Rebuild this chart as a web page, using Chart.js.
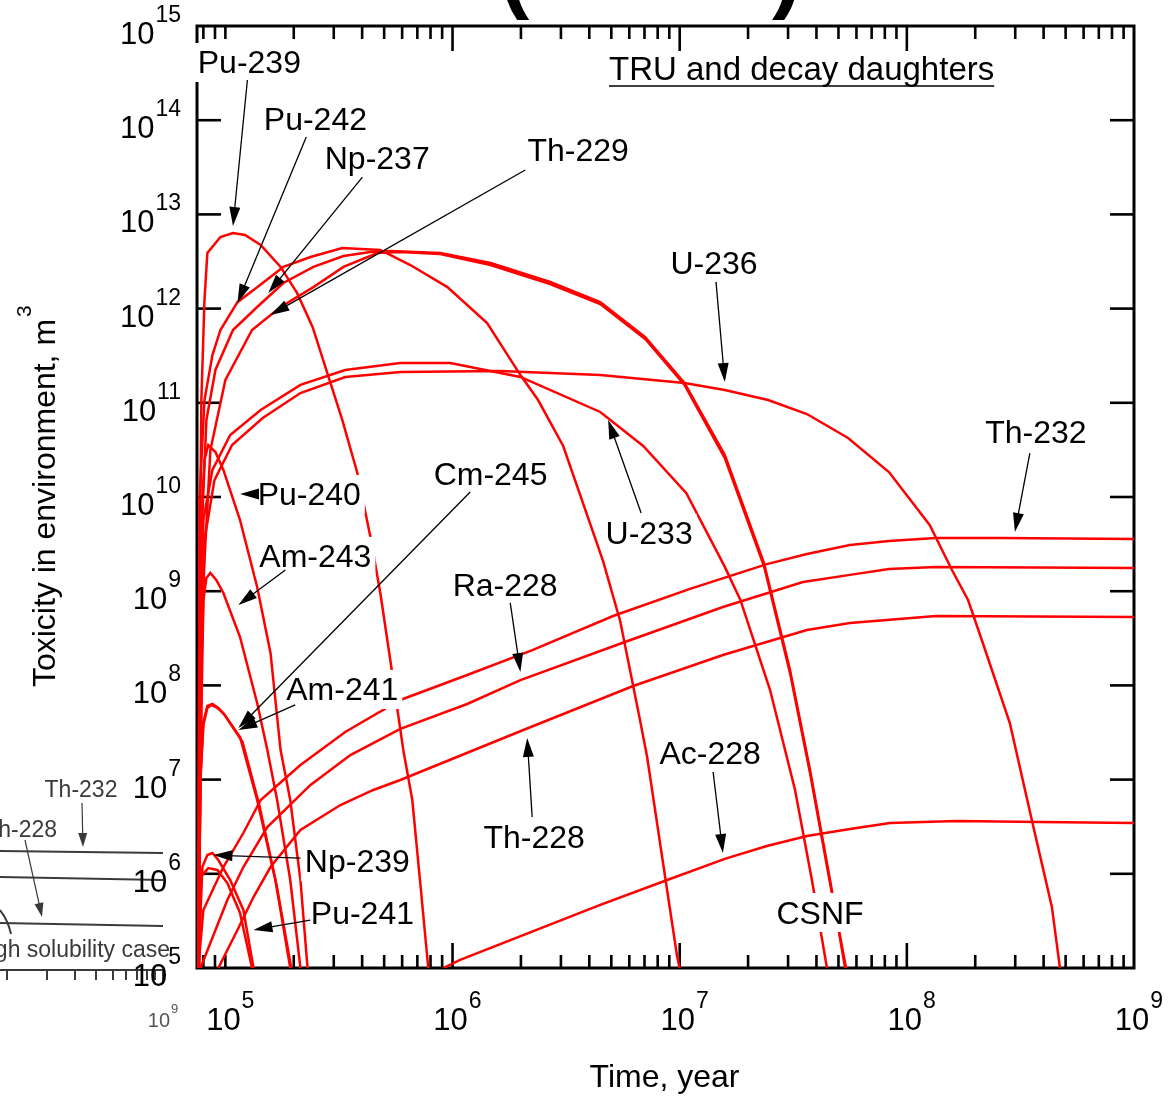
<!DOCTYPE html>
<html>
<head>
<meta charset="utf-8">
<script src="https://cdn.jsdelivr.net/npm/chart.js@4.4.1/dist/chart.umd.min.js"></script>
<style>
  html, body { margin: 0; padding: 0; background: #fff; }
  canvas { display: block; }
</style>
</head>
<body>
<canvas id="toxChart" width="1174" height="1096"></canvas>
<script>
// axis ranges and tick labels
const xMin = 75000, xMax = 1e9;
const yMin = 1e5, yMax = 1e15;
const xTickExps = [5, 6, 7, 8, 9];
const yTickExps = [5, 6, 7, 8, 9, 10, 11, 12, 13, 14, 15];

// [time (year), toxicity (m3)]
const pu239 = [[7.6e4,1e5],[7.69e4,8.1e8],[7.84e4,1.07e11],[8.09e4,1.23e12],[8.33e4,3.9e12],[9.51e4,5.75e12],[1.08e5,6.35e12],[1.22e5,6.04e12],[1.43e5,4.73e12],[1.75e5,2.77e12],[2.07e5,1.46e12],[2.42e5,6.38e11],[3.27e5,6.57e10],[3.81e5,1.8e10],[4.35e5,3.76e9],[4.81e5,9.57e8],[5.32e5,1.86e8],[6.07e5,2.06e7],[6.65e5,6.07e6],[7.21e5,7.98e5],[7.82e5,1e5]];
const pu242 = [[7.6e4,1e5],[7.69e4,9.29e9],[8.09e4,1.07e11],[8.77e4,3.21e11],[9.51e4,5.93e11],[1.13e5,1.17e12],[1.38e5,1.69e12],[1.8e5,2.77e12],[2.37e5,3.53e12],[3.27e5,4.4e12],[4.81e5,4.19e12],[6.52e5,2.9e12],[9.49e5,1.69e12],[1.42e6,7.03e11],[1.99e6,1.97e11],[2.38e6,1.07e11],[3.07e6,3.48e10],[4.6e6,2.09e9],[5.47e6,4.83e8],[6.7e6,4.19e7],[7.19e6,1.74e7],[8.46e6,1.27e6],[9.75e6,1.31e5],[1e7,1e5]];
const np237 = [[7.6e4,1e5],[7.77e4,2.14e9],[8.25e4,6.57e10],[9.04e4,2.23e11],[1.08e5,5.93e11],[1.38e5,1.04e12],[1.8e5,1.87e12],[2.44e5,2.77e12],[3.31e5,3.62e12],[4.35e5,3.99e12],[5.32e5,4.09e12],[8.83e5,3.89e12],[1.47e6,3.05e12],[2.69e6,1.92e12],[4.47e6,1.17e12],[7.05e6,4.99e11],[1.05e7,1.62e11],[1.58e7,2.79e10],[2.35e7,1.99e9],[3.06e7,1.46e8],[3.75e7,1.26e7],[4.59e7,8.59e5],[5.35e7,1e5]];
const th229 = [[7.6e4,1e5],[7.92e4,8.07e8],[8.59e4,3.15e10],[1e5,1.75e11],[1.31e5,5.93e11],[1.75e5,1.04e12],[2.44e5,1.69e12],[3.31e5,2.77e12],[4.67e5,3.89e12],[5.89e5,3.99e12],[8.83e5,3.8e12],[1.47e6,2.9e12],[2.69e6,1.82e12],[4.47e6,1.12e12],[7.05e6,4.75e11],[1.05e7,1.55e11],[1.58e7,2.59e10],[2.35e7,1.85e9],[3.06e7,1.35e8],[3.75e7,1.17e7],[4.59e7,7.98e5],[5.4e7,1e5]];
const u233 = [[7.6e4,1e5],[7.77e4,7e7],[8e4,5.7e9],[8.77e4,1.94e10],[1.05e5,4.55e10],[1.43e5,8.39e10],[2.14e5,1.55e11],[3.37e5,2.23e11],[5.89e5,2.64e11],[9.77e5,2.64e11],[1.99e6,1.88e11],[4.47e6,7.99e10],[6.91e6,3.48e10],[1.07e7,1.1e10],[1.58e7,1.81e9],[1.85e7,8.07e8],[2.5e7,8.94e7],[3.22e7,7.76e6],[3.82e7,8.59e5],[4.45e7,1e5]];
const u236 = [[7.6e4,1e5],[7.77e4,1.61e7],[8.09e4,3.5e9],[8.95e4,1.51e10],[1.07e5,3.56e10],[1.46e5,6.9e10],[2.14e5,1.27e11],[3.37e5,1.88e11],[5.89e5,2.12e11],[1.62e6,2.18e11],[4.47e6,1.97e11],[1.05e7,1.62e11],[1.58e7,1.37e11],[2.45e7,1.07e11],[3.63e7,7.6e10],[5.51e7,4.23e10],[8.34e7,1.84e10],[1.26e8,5.05e9],[1.58e8,1.68e9],[1.86e8,8.07e8],[2.16e8,2.82e8],[2.84e8,3.99e7],[3.55e8,3.72e6],[4.35e8,4.45e5],[4.72e8,1e5]];
const th232 = [[7.6e4,1e5],[8e4,4.13e5],[9.8e4,1.18e6],[1.2e5,2.71e6],[1.43e5,6.07e6],[2.14e5,1.43e7],[3.37e5,3.2e7],[5.89e5,7e7],[1.16e6,1.29e8],[2.26e6,2.38e8],[5.09e6,5.45e8],[1.11e7,1.06e9],[2.42e7,1.94e9],[3.63e7,2.48e9],[5.62e7,3.09e9],[8.34e7,3.41e9],[1.34e8,3.67e9],[2.57e8,3.67e9],[1e9,3.58e9]];
const ra228 = [[7.77e4,1e5],[1.02e5,5.27e5],[1.2e5,1.18e6],[1.53e5,3.14e6],[2.37e5,8.77e6],[3.55e5,1.82e7],[5.89e5,3.45e7],[1.16e6,6.35e7],[1.99e6,1.14e8],[5.58e6,2.82e8],[1.55e7,6.8e8],[3.49e7,1.25e9],[5.62e7,1.49e9],[8.34e7,1.72e9],[1.34e8,1.81e9],[1e9,1.76e9]];
const th228 = [[9.31e4,1e5],[1.13e5,2.53e5],[1.33e5,5.67e5],[1.58e5,1.18e6],[2.14e5,2.92e6],[3.21e5,5.37e6],[4.48e5,7.76e6],[5.89e5,9.9e6],[2.05e6,3.36e7],[6.24e6,9.86e7],[1.55e7,2.1e8],[3.63e7,3.87e8],[5.62e7,4.6e8],[1.34e8,5.45e8],[1e9,5.32e8]];
const ac228 = [[9.11e5,1e5],[1.08e6,1.22e5],[4.47e6,4.67e5],[8.81e6,8.59e5],[1.58e7,1.44e6],[2.42e7,1.97e6],[3.63e7,2.52e6],[5.62e7,2.99e6],[8.43e7,3.46e6],[1.66e8,3.64e6],[3.85e8,3.55e6],[1e9,3.46e6]];
const pu240 = [[7.6e4,1e5],[7.69e4,7e7],[7.84e4,5.7e9],[8.09e4,2.47e10],[8.41e4,3.56e10],[9.04e4,3e10],[9.8e4,1.94e10],[1.16e5,5.7e9],[1.38e5,1.11e9],[1.58e5,2.21e8],[1.75e5,2.06e7],[1.93e5,6.07e6],[2.14e5,8.59e5],[2.3e5,1e5]];
const am243 = [[7.6e4,1e5],[7.77e4,7e7],[8e4,8.07e8],[8.25e4,1.38e9],[8.59e4,1.56e9],[9.13e4,1.31e9],[9.8e4,9.57e8],[1.16e5,3.26e8],[1.38e5,6.51e7],[1.53e5,2.06e7],[1.69e5,6.07e6],[1.93e5,8.59e5],[2.14e5,1e5]];
const am241 = [[7.6e4,1e5],[7.77e4,9.9e6],[8e4,3.8e7],[8.33e4,5.76e7],[8.68e4,6.2e7],[9.22e4,5.76e7],[9.8e4,5.09e7],[1.16e5,2.83e7],[1.38e5,6.07e6],[1.66e5,8.59e5],[1.93e5,1e5]];
const cm245 = [[7.6e4,1e5],[7.77e4,1.12e7],[8e4,4.08e7],[8.33e4,6.05e7],[8.77e4,6.35e7],[9.31e4,5.76e7],[1e5,4.73e7],[1.19e5,2.51e7],[1.41e5,5.37e6],[1.68e5,7.6e5],[1.95e5,1e5]];
const np239 = [[7.6e4,1e5],[7.92e4,1.18e6],[8.33e4,1.58e6],[8.77e4,1.66e6],[9.31e4,1.4e6],[1.05e5,8.59e5],[1.2e5,4.13e5],[1.33e5,1e5]];
const pu241 = [[7.69e4,1e5],[7.77e4,9.25e5],[8.41e4,1.15e6],[9.22e4,1.1e6],[1.02e5,7.98e5],[1.16e5,3.84e5],[1.31e5,1e5]];

const series = [
  ['Pu-239', pu239], ['Pu-242', pu242], ['Np-237', np237], ['Th-229', th229],
  ['U-233', u233], ['U-236', u236], ['Th-232', th232], ['Ra-228', ra228],
  ['Th-228', th228], ['Ac-228', ac228], ['Pu-240', pu240], ['Am-243', am243],
  ['Am-241', am241], ['Cm-245', cm245], ['Np-239', np239], ['Pu-241', pu241]
];

// label text, label centre, arrow tail, arrow tip (data coords)
const notes = [
  { text: 'Pu-239', at: [1.275e5, 4.15e14], tail: [1.25e5, 2.67e14], tip: [1.08e5, 7.53e12] },
  { text: 'Pu-242', at: [2.49e5, 1.03e14], tail: [2.27e5, 6.64e13], tip: [1.13e5, 1.146e12] },
  { text: 'Np-237', at: [4.66e5, 4.06e13], tail: [4.01e5, 2.49e13], tip: [1.545e5, 1.466e12] },
  { text: 'Th-229', at: [3.57e6, 4.83e13], tail: [2.09e6, 2.96e13], tip: [1.58e5, 8.55e11] },
  { text: 'U-236', at: [1.417e7, 3.05e12], tail: [1.445e7, 1.92e12], tip: [1.58e7, 1.66e11] },
  { text: 'Th-232', at: [3.7e8, 4.9e10], tail: [3.48e8, 2.93e10], tip: [2.99e8, 4.25e9] },
  { text: 'Pu-240', at: [2.34e5, 1.077e10], tail: [1.38e5, 1.077e10], tip: [1.16e5, 1.077e10] },
  { text: 'Cm-245', at: [1.47e6, 1.755e10], tail: [1.196e6, 1.13e10], tip: [1.141e5, 3.53e7] },
  { text: 'Am-243', at: [2.49e5, 2.37e9], tail: [1.837e5, 1.68e9], tip: [1.141e5, 7.13e8] },
  { text: 'Am-241', at: [3.27e5, 9.16e7], tail: [2.03e5, 6.2e7], tip: [1.141e5, 3.36e7] },
  { text: 'Ra-228', at: [1.705e6, 1.19e9], tail: [1.795e6, 7.5e8], tip: [1.99e6, 1.387e8] },
  { text: 'Th-228', at: [2.288e6, 2.46e6], tail: [2.242e6, 4.01e6], tip: [2.131e6, 2.77e7] },
  { text: 'U-233', at: [7.336e6, 4.15e9], tail: [6.764e6, 6.77e9], tip: [4.842e6, 6.57e10] },
  { text: 'Ac-228', at: [1.361e7, 1.96e7], tail: [1.403e7, 1.205e7], tip: [1.55e7, 1.66e6] },
  { text: 'Np-239', at: [3.81e5, 1.37e6], tail: [2.14e5, 1.47e6], tip: [8.855e4, 1.58e6] },
  { text: 'Pu-241', at: [4.01e5, 3.93e5], tail: [2.366e5, 3.23e5], tip: [1.33e5, 2.53e5] },
  { text: 'CSNF', at: [4.147e7, 3.93e5] }
];

const FONT = '"Liberation Sans", Arial, Helvetica, sans-serif';

function seg(ctx, x1, y1, x2, y2) {
  ctx.beginPath();
  ctx.moveTo(x1, y1);
  ctx.lineTo(x2, y2);
  ctx.stroke();
}

function arrow(ctx, x1, y1, x2, y2, len, half) {
  const a = Math.atan2(y2 - y1, x2 - x1);
  const c = Math.cos(a), s = Math.sin(a);
  seg(ctx, x1, y1, x2 - c * len * 0.7, y2 - s * len * 0.7);
  ctx.beginPath();
  ctx.moveTo(x2, y2);
  ctx.lineTo(x2 - len * c + half * s, y2 - len * s - half * c);
  ctx.lineTo(x2 - len * c - half * s, y2 - len * s + half * c);
  ctx.closePath();
  ctx.fill();
}

function power(ctx, exp, x, y, mode) {
  // "10" with superscript exponent
  ctx.font = '31px ' + FONT;
  const wBase = ctx.measureText('10').width;
  ctx.font = '23px ' + FONT;
  const wSup = ctx.measureText(String(exp)).width;
  let bx;
  if (mode === 'right') bx = x - wSup - 1 - wBase;
  else bx = x - wBase / 2;
  ctx.textAlign = 'left';
  ctx.textBaseline = 'alphabetic';
  ctx.font = '31px ' + FONT;
  ctx.fillText('10', bx, y);
  ctx.font = '23px ' + FONT;
  ctx.fillText(String(exp), bx + wBase + 1, y - 22);
}

const figure = {
  id: 'figure',
  beforeDatasetsDraw(chart) {
    const { ctx, chartArea: { left, right, top, bottom }, scales: { x, y } } = chart;
    ctx.save();
    ctx.strokeStyle = '#000';
    ctx.lineWidth = 3;
    ctx.strokeRect(left, top, right - left, bottom - top);
    ctx.lineWidth = 2.6;
    yTickExps.forEach(e => {
      const py = y.getPixelForValue(Math.pow(10, e));
      if (py <= top + 1 || py >= bottom - 1) return;
      seg(ctx, left, py, left + 24, py);
      seg(ctx, right, py, right - 24, py);
    });
    for (let e = 4; e <= 8; e++) {
      for (let k = 1; k <= 9; k++) {
        const v = k * Math.pow(10, e);
        if (v <= xMin || v >= xMax) continue;
        const px = x.getPixelForValue(v);
        const len = (k === 1 && e >= 6) ? 25 : 13;
        seg(ctx, px, bottom, px, bottom - len);
        seg(ctx, px, top, px, top + len);
      }
    }
    ctx.restore();
  },
  afterDatasetsDraw(chart) {
    const { ctx, scales: { x, y } } = chart;
    const P = p => [x.getPixelForValue(p[0]), y.getPixelForValue(p[1])];
    ctx.save();
    ctx.font = '32px ' + FONT;
    const boxes = notes.map(n => {
      const [cx, cy] = P(n.at);
      const w = ctx.measureText(n.text).width;
      return { n, cx, cy, w };
    });
    ctx.fillStyle = '#fff';
    boxes.forEach(b => ctx.fillRect(b.cx - b.w / 2 - 4, b.cy - 19, b.w + 8, 39));
    ctx.fillStyle = '#000';
    ctx.strokeStyle = '#000';
    ctx.lineWidth = 1.3;
    notes.forEach(n => {
      if (!n.tip) return;
      const [x1, y1] = P(n.tail);
      const [x2, y2] = P(n.tip);
      arrow(ctx, x1, y1, x2, y2, 19, 5.5);
    });
    ctx.textAlign = 'center';
    ctx.textBaseline = 'alphabetic';
    ctx.font = '32px ' + FONT;
    boxes.forEach(b => ctx.fillText(b.n.text, b.cx, b.cy + 11.5));

    // note at top right
    ctx.font = '33px ' + FONT;
    ctx.textAlign = 'left';
    const t = 'TRU and decay daughters';
    const tw = ctx.measureText(t).width;
    ctx.fillText(t, 609, 80);
    ctx.lineWidth = 1.6;
    seg(ctx, 609, 86, 609 + tw, 86);
    ctx.restore();
  },
  afterDraw(chart) {
    const { ctx, chartArea: { left, right }, scales: { x, y } } = chart;
    ctx.save();

    // clipped neighbouring panel at lower left
    ctx.strokeStyle = '#3a3a3a';
    ctx.fillStyle = '#3a3a3a';
    ctx.lineWidth = 2;
    seg(ctx, 0, 851, 163, 853);
    seg(ctx, 0, 877, 163, 880);
    seg(ctx, 0, 923, 163, 926);
    seg(ctx, 0, 970, 163, 970);
    seg(ctx, 163, 970, 163, 984);
    [7, 47, 75, 96, 113, 126, 137, 147, 155].forEach(px => seg(ctx, px, 970, px, 980));
    ctx.beginPath();
    ctx.moveTo(0, 910);
    ctx.quadraticCurveTo(8, 920, 11, 934);
    ctx.stroke();
    ctx.lineWidth = 1.2;
    arrow(ctx, 82, 803, 83, 847, 14, 4.5);
    arrow(ctx, 25, 840, 42, 917, 14, 4.5);
    ctx.font = '23px ' + FONT;
    ctx.textAlign = 'center';
    ctx.fillText('Th-232', 81, 797);
    ctx.textAlign = 'right';
    ctx.fillText('Th-228', 57, 837);
    ctx.fillText('High solubility case', 170, 957);
    ctx.fillStyle = '#555';
    ctx.font = '20px ' + FONT;
    ctx.fillText('10', 170, 1027);
    ctx.font = '13px ' + FONT;
    ctx.textAlign = 'left';
    ctx.fillText('9', 171, 1013);

    // tick labels
    ctx.fillStyle = '#000';
    yTickExps.forEach(e => {
      const py = y.getPixelForValue(Math.pow(10, e));
      power(ctx, e, 181, py + 18, 'right');
    });
    xTickExps.forEach(e => {
      const px = x.getPixelForValue(Math.pow(10, e));
      power(ctx, e, px - 2, 1030, 'center');
    });

    // axis titles
    ctx.font = '32px ' + FONT;
    ctx.textAlign = 'center';
    ctx.fillText('Time, year', (left + right) / 2 - 1, 1087);
    ctx.save();
    ctx.translate(55, 503);
    ctx.rotate(-Math.PI / 2);
    const yt = 'Toxicity in environment, m';
    const ytw = ctx.measureText(yt).width;
    ctx.fillText(yt, 0, 0);
    ctx.font = '21px ' + FONT;
    ctx.textAlign = 'left';
    ctx.fillText('3', ytw / 2 + 2, -24);
    ctx.restore();

    // cut-off panel title
    ctx.font = 'bold 88px ' + FONT;
    ctx.textAlign = 'left';
    ctx.fillText('(', 500, 2);
    ctx.fillText(')', 772, 2);
    ctx.restore();
  }
};

new Chart(document.getElementById('toxChart'), {
  type: 'line',
  data: {
    datasets: series.map(([name, pts]) => ({
      label: name,
      data: pts.map(([t, v]) => ({ x: t, y: v })),
      borderColor: '#ff0000',
      borderWidth: 2.5,
      pointRadius: 0,
      tension: 0,
      fill: false
    }))
  },
  options: {
    responsive: false,
    animation: false,
    devicePixelRatio: 1,
    layout: { padding: { left: 197, right: 40, top: 26, bottom: 128 } },
    plugins: { legend: { display: false }, tooltip: { enabled: false } },
    scales: {
      x: { type: 'logarithmic', min: xMin, max: xMax, display: false },
      y: { type: 'logarithmic', min: yMin, max: yMax, display: false }
    }
  },
  plugins: [figure]
});
</script>
</body>
</html>
